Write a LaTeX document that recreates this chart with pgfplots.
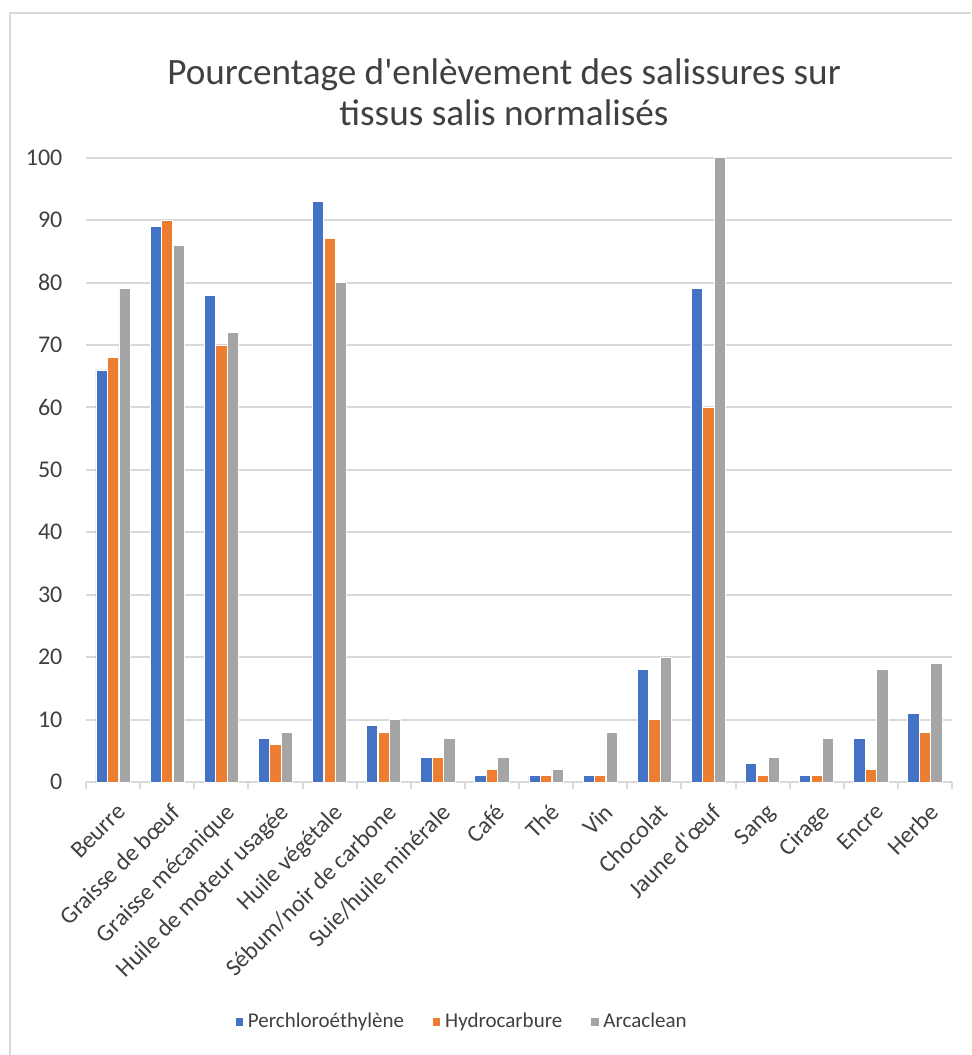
\documentclass[border=0pt]{standalone}
\usepackage{pgfplots}
\pgfplotsset{compat=1.18}
\usepackage{fontspec}
\setmainfont{Carlito}[Ligatures=TeXOff]
\definecolor{cblue}{HTML}{4472C4}
\definecolor{corange}{HTML}{ED7D31}
\definecolor{cgray}{HTML}{A5A5A5}
\definecolor{gridgray}{HTML}{D9D9D9}
\definecolor{textgray}{HTML}{404040}
\begin{document}
\begin{tikzpicture}
\path[use as bounding box] (0pt,0pt) rectangle (485.5pt,527.5pt);
\draw[color=gridgray, line width=1.2pt] (5pt,0pt) -- (5pt,521pt) -- (485.5pt,521pt);
\node[font=\fontsize{18.6}{20.5}\selectfont, align=center, text=textgray] at (252pt,481.5pt) {Pourcentage d'enlèvement des salissures sur\\tissus salis normalisés};
\begin{axis}[
  at={(43pt,136.5pt)}, anchor=south west,
  scale only axis, width=433pt, height=312.15pt,
  ybar=0.15pt, bar width=5.6pt,
  xmin=-0.5, xmax=15.5, ymin=0, ymax=100,
  xtick={0,...,15},
  xticklabels={Beurre,Graisse de bœuf,Graisse mécanique,Huile de moteur usagée,Huile végétale,Sébum/noir de carbone,Suie/huile minérale,Café,Thé,Vin,Chocolat,Jaune d'œuf,Sang,Cirage,Encre,Herbe},
  minor xtick={-0.5,0.5,...,15.5},
  ytick={0,10,...,100},
  axis lines*=left,
  y axis line style={draw=none},
  x axis line style={gridgray, line width=1pt},
  major x tick style={draw=none},
  minor x tick style={gridgray, line width=1pt},
  minor tick length=3.5pt,
  tick align=outside,
  ytick style={draw=none},
  ymajorgrids, grid style={gridgray, line width=1pt},
  tick label style={font=\fontsize{12}{14}\selectfont, text=textgray},
  xticklabel style={rotate=45, anchor=north east, inner sep=1pt, yshift=-4pt, xshift=-2pt},
  yticklabel style={xshift=-4pt},
  /pgf/number format/assume math mode=true,
  legend style={at={(0.435,-0.384)}, anchor=center, draw=none, legend columns=3,
    font=\fontsize{10.5}{12}\selectfont, text=textgray,
    /tikz/every even column/.append style={column sep=12pt}},
  legend image code/.code={\fill[#1] (0pt,-2.2pt) rectangle (4.2pt,2.2pt);},
]
\addplot[fill=cblue, draw=white, line width=0.4pt] coordinates {(0,66) (1,89) (2,78) (3,7) (4,93) (5,9) (6,4) (7,1) (8,1) (9,1) (10,18) (11,79) (12,3) (13,1) (14,7) (15,11)};
\addplot[fill=corange, draw=white, line width=0.4pt] coordinates {(0,68) (1,90) (2,70) (3,6) (4,87) (5,8) (6,4) (7,2) (8,1) (9,1) (10,10) (11,60) (12,1) (13,1) (14,2) (15,8)};
\addplot[fill=cgray, draw=white, line width=0.4pt] coordinates {(0,79) (1,86) (2,72) (3,8) (4,80) (5,10) (6,7) (7,4) (8,2) (9,8) (10,20) (11,100) (12,4) (13,7) (14,18) (15,19)};
\legend{Perchloroéthylène,Hydrocarbure,Arcaclean}
\end{axis}
\end{tikzpicture}
\end{document}
